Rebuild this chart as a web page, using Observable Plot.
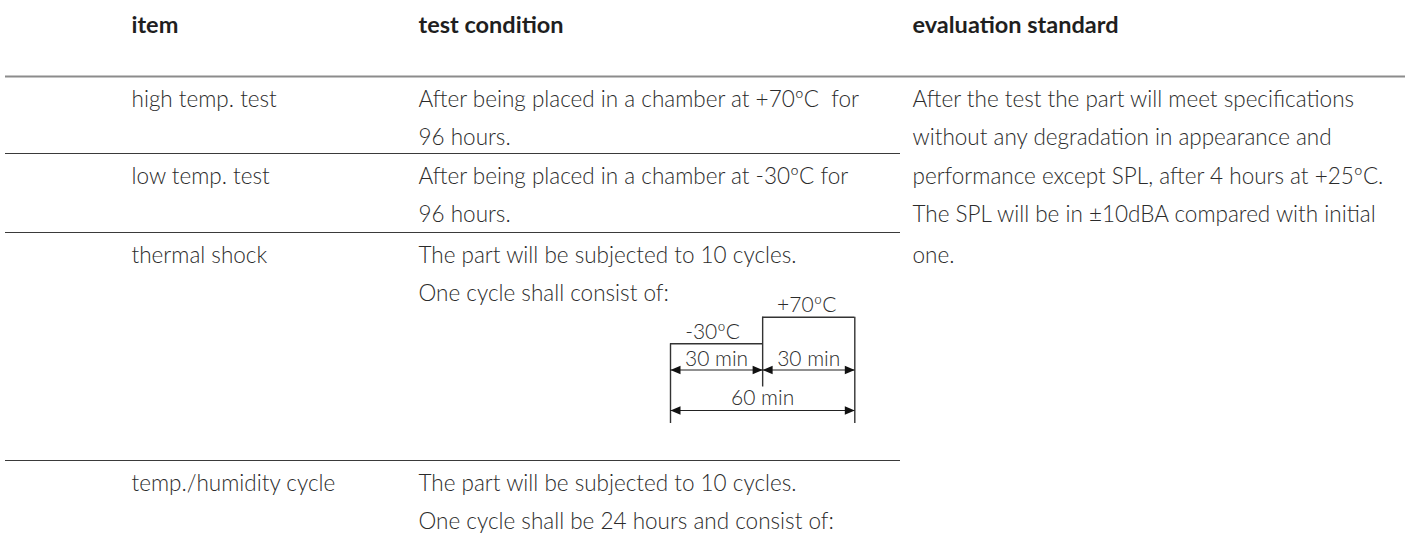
<!DOCTYPE html>
<html><head><meta charset="utf-8">
<script src="https://cdn.jsdelivr.net/npm/d3@7"></script>
<script src="https://cdn.jsdelivr.net/npm/@observablehq/plot@0.6"></script>
<style>
html,body{margin:0;padding:0;background:#fff;}
#chart svg text{white-space:pre;}
</style></head><body><div id="chart"></div>
<script>
// ---- data ----
const headers = ["item", "test condition", "evaluation standard"];
const items = ["high temp. test", "low temp. test", "thermal shock", "temp./humidity cycle"];
const conditionLine1 = [
  "After being placed in a chamber at +70ºC  for",
  "After being placed in a chamber at -30ºC for",
  "The part will be subjected to 10 cycles.",
  "The part will be subjected to 10 cycles."
];
const conditionLine2 = [
  "96 hours.",
  "96 hours.",
  "One cycle shall consist of:",
  "One cycle shall be 24 hours and consist of:"
];
const evaluation = [
  "After the test the part will meet specifications",
  "without any degradation in appearance and",
  "performance except SPL, after 4 hours at +25ºC.",
  "The SPL will be in ±10dBA compared with initial",
  "one."
];
const phaseTemps = [-30, 70];
const phaseLabels = ["-30ºC", "+70ºC"];
const phaseMinutes = [30, 30];
const spanFrom = [0, 30, 0];
const spanTo = [30, 60, 60];
const spanLevel = [0, 0, 1];

// ---- layout ----
const W = 1405, H = 535;
const colX = [131, 418, 912];
const headerY = 25;
const topRuleY = 76;
const rowTops = [76, 153, 232, 460];
const lineOffset = 23, lineStep = 38.5;
const sepX1 = 5, sepX2 = 900;
const font = "Lato, 'Open Sans', sans-serif";
const ink = "#2b2b2b";

// diagram scales (schematic)
const dx = d3.scaleLinear([0, 60], [670, 854.3]);
const dy = d3.scaleLinear([-30, 70], [343.3, 316.7]);
const dimArrowY = [369.5, 410];
const dimLabelY = [359, 397.5];

// ---- build tables ----
const headerData = headers.map((t, i) => ({x: colX[i], y: headerY, text: t}));
const body = [];
const lineYs = [];
items.forEach((t, i) => {
  const y0 = rowTops[i] + lineOffset;
  lineYs.push(y0, y0 + lineStep);
  body.push({x: colX[0], y: y0, text: t});
  body.push({x: colX[1], y: y0, text: conditionLine1[i]});
  body.push({x: colX[1], y: y0 + lineStep, text: conditionLine2[i]});
});
evaluation.forEach((t, j) => body.push({x: colX[2], y: lineYs[j], text: t}));

const rules = [{y: topRuleY, x1: sepX1, x2: W, w: 2, c: "#8c8c8c"}]
  .concat(rowTops.slice(1).map(y => ({y, x1: sepX1, x2: sepX2, w: 1.2, c: "#3a3a3a"})));

// diagram
const starts = d3.cumsum([0, ...phaseMinutes]); // boundaries
const phases = phaseTemps.map((t, i) => ({temp: t, label: phaseLabels[i], start: starts[i], end: starts[i + 1]}));
const levelsH = phases.map(p => ({y: dy(p.temp), x1: dx(p.start), x2: dx(p.end)}));
const bounds = Array.from(starts, (m) => {
  const adj = phases.filter(p => p.start === m || p.end === m);
  const top = d3.min(adj, p => dy(p.temp));
  const lvl = d3.max(spanFrom.map((f, k) => (f === m || spanTo[k] === m) ? spanLevel[k] : -1));
  return {x: dx(m), y1: top, y2: dimArrowY[lvl] + (lvl ? 13 : 17)};
});
const phaseText = phases.map(p => ({x: dx((p.start + p.end) / 2) - (p.temp < 0 ? 4 : 2), y: dy(p.temp) - 12, text: p.label}));
const dims = spanFrom.map((f, k) => ({x1: dx(f), x2: dx(spanTo[k]), y: dimArrowY[spanLevel[k]],
  label: `${spanTo[k] - f} min`, ly: dimLabelY[spanLevel[k]], lx: dx((f + spanTo[k]) / 2)}));
const headLen = 10, headHalf = 4.3;
const heads = [];
dims.forEach((d, k) => {
  [[d.x1, 1], [d.x2, -1]].forEach(([tx, s], j) => {
    const id = `${k}-${j}`;
    heads.push({id, x: tx, y: d.y});
    heads.push({id, x: tx + s * headLen, y: d.y - headHalf});
    heads.push({id, x: tx + s * headLen, y: d.y + headHalf});
  });
});

const chart = Plot.plot({
  width: W, height: H, margin: 0,
  x: {domain: [0, W], range: [0, W], axis: null},
  y: {domain: [0, H], range: [0, H], axis: null},
  style: {fontFamily: font, background: "#fff", color: ink},
  marks: [
    Plot.ruleY(rules, {y: "y", x1: "x1", x2: "x2", stroke: "c", strokeWidth: "w"}),
    Plot.text(headerData, {x: "x", y: "y", text: "text", textAnchor: "start", fontWeight: "bold", fontSize: 23.5, fill: "#1f1f1f"}),
    Plot.text(body, {x: "x", y: "y", text: "text", textAnchor: "start", fontSize: 22.5, fontWeight: 300, fill: ink}),
    Plot.ruleY(levelsH, {y: "y", x1: "x1", x2: "x2", stroke: "#333", strokeWidth: 1.4}),
    Plot.ruleX(bounds, {x: "x", y1: "y1", y2: "y2", stroke: "#333", strokeWidth: 1.4}),
    Plot.ruleY(dims, {y: "y", x1: "x1", x2: "x2", stroke: "#222", strokeWidth: 1.2}),
    Plot.line(heads, {x: "x", y: "y", z: "id", fill: "#111", stroke: "none", curve: "linear-closed"}),
    Plot.text(phaseText, {x: "x", y: "y", text: "text", fontSize: 21, fontWeight: 300, fill: ink}),
    Plot.text(dims, {x: "lx", y: "ly", text: "label", fontSize: 21, fontWeight: 300, fill: ink})
  ]
});
document.getElementById("chart").append(chart);
</script></body></html>
